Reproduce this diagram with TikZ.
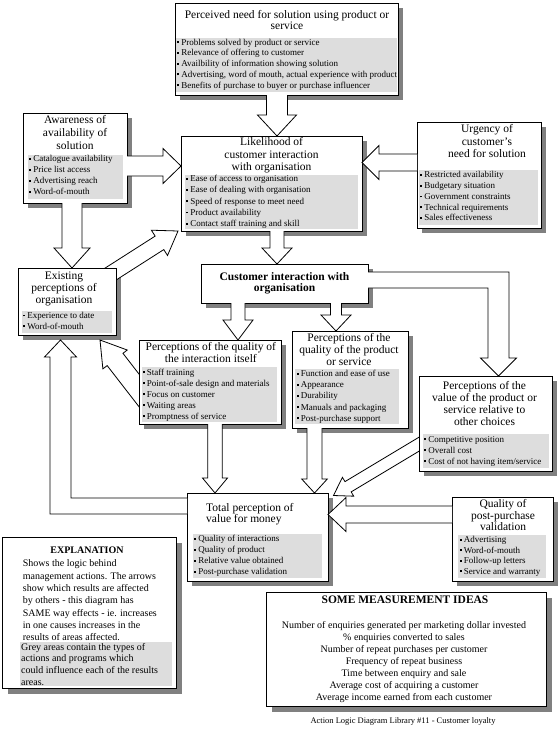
\documentclass[tikz,border=0pt]{standalone}
\usepackage{fontspec}
\setmainfont{Liberation Serif}
\usetikzlibrary{calc}
\definecolor{shadowc}{RGB}{128,128,128}
\definecolor{greyc}{RGB}{221,221,221}
\newcommand{\bulmark}{\rule[2pt]{1.8pt}{1.8pt}\hspace{2.4pt}}
% block arrow: tail, tip, stem half width, head half width, head length
\newcommand{\barrow}[5]{%
  \coordinate (ba-a) at (#1);
  \coordinate (ba-b) at (#2);
  \coordinate (ba-h) at ($(ba-b)!#5!(ba-a)$);
  \filldraw[arrowc] ($(ba-a)!#3!90:(ba-b)$) -- ($(ba-h)!#3!90:(ba-b)$) -- ($(ba-h)!#4!90:(ba-b)$)
    -- (ba-b) -- ($(ba-h)!#4!-90:(ba-b)$) -- ($(ba-h)!#3!-90:(ba-b)$) -- ($(ba-a)!#3!-90:(ba-b)$);
}
% centred title lines: x, first baseline, step, lines
\newcommand{\tlines}[4]{\foreach \t [count=\i from 0] in {#4} \node[ttl,anchor=base] at (#1,{#2+\i*#3}) {\t};}
% bullet lines: x, first baseline, step, lines
\newcommand{\blines}[4]{\foreach \t [count=\i from 0] in {#4} \node[bul,anchor=base west] at (#1,{#2+\i*#3}) {\bulmark\t};}
\begin{document}
\begin{tikzpicture}[x=1pt,y=-1pt,
  geom/.style={draw=none,inner sep=0pt,outer sep=0pt},
  boxline/.style={draw=black,fill=white,line width=0.9pt},
  arrowc/.style={draw=black,fill=white,line width=0.8pt,line join=miter},
  ttl/.style={inner sep=0pt,font=\fontsize{11.5}{12}\selectfont},
  bul/.style={inner sep=0pt,font=\fontsize{9}{10}\selectfont},
  expf/.style={inner sep=0pt,font=\fontsize{10}{11}\selectfont}]
\fill[white] (0,0) rectangle (560,729);
\useasboundingbox (0,0) rectangle (560,729);

% ---------- box geometry ----------
\node[geom,minimum width=223pt,minimum height=92pt] (need) at (286.5,49) {};
\node[geom,minimum width=104pt,minimum height=90pt] (aware) at (75,158) {};
\node[geom,minimum width=181pt,minimum height=95pt] (likely) at (271.5,183.5) {};
\node[geom,minimum width=124pt,minimum height=106pt] (urg) at (479,175) {};
\node[geom,minimum width=98pt,minimum height=67pt] (exist) at (67,301.5) {};
\node[geom,minimum width=167pt,minimum height=39pt] (cust) at (284.5,283.5) {};
\node[geom,minimum width=142pt,minimum height=84pt] (pint) at (210,382) {};
\node[geom,minimum width=116pt,minimum height=97pt] (pprod) at (350,379.5) {};
\node[geom,minimum width=133pt,minimum height=95pt] (pval) at (485.5,423.5) {};
\node[geom,minimum width=141pt,minimum height=88pt] (total) at (257.5,537) {};
\node[geom,minimum width=101pt,minimum height=84pt] (post) at (502.5,539) {};
\node[geom,minimum width=174pt,minimum height=151pt] (expl) at (89,612.5) {};
\node[geom,minimum width=280pt,minimum height=114pt] (meas) at (406,649) {};
\coordinate (exsh) at ([yshift=-5pt]exist.south);

% ---------- shadows ----------
\foreach \n/\d in {need/5pt,aware/5pt,likely/5pt,urg/5pt,exist/5pt,cust/5pt,pint/5pt,pprod/5pt,pval/5pt,total/5pt,post/5pt,expl/6pt,meas/6pt}
  \fill[shadowc] ([shift={(\d,-\d)}]\n.south west) rectangle ([shift={(\d,-\d)}]\n.north east);

% ---------- diagonal arrows (tails hidden under boxes) ----------
\barrow{[shift={(-15.5pt,-12.5pt)}]exist.north east}{[xshift=-3pt]likely.south west}{8pt}{15pt}{22pt}
\barrow{[shift={(9pt,-20pt)}]pint.west}{exsh -| 100,0}{10pt}{15.4pt}{24.6pt}
\barrow{[shift={(12.3pt,-13.3pt)}]pval.west}{[shift={(5.5pt,-2.5pt)}]total.north east}{6pt}{11pt}{17pt}

% ---------- boxes ----------
\foreach \n in {need,aware,likely,urg,exist,cust,pint,pprod,pval,total,post,expl,meas}
  \draw[boxline] (\n.south west) rectangle (\n.north east);

% ---------- grey areas ----------
\fill[greyc] (176,38) rectangle (397,92);
\fill[greyc] (28,155) rectangle (123,199);
\fill[greyc] (185,175) rectangle (358,229);
\fill[greyc] (419,170) rectangle (538,225);
\fill[greyc] (22,311) rectangle (112,333);
\fill[greyc] (142,367) rectangle (277,422);
\fill[greyc] (295,369) rectangle (399,424);
\fill[greyc] (423,434) rectangle (549,468);
\fill[greyc] (193,534) rectangle (322,578);
\fill[greyc] (458,535) rectangle (546,578);
\fill[greyc] (20,642) rectangle (172,686);

% ---------- texts ----------
\tlines{287}{18.5}{11}{Perceived need for solution using product or,service}
\blines{177}{45}{10.75}{Problems solved by product or service,Relevance of offering to customer,Availbility of information showing solution,{Advertising, word of mouth, actual experience with product},Benefits of purchase to buyer or purchase influencer}

\tlines{75}{123.5}{13}{Awareness of,availability of,solution}
\blines{29}{161.7}{11}{Catalogue availability,Price list access,Advertising reach,Word-of-mouth}

\tlines{271.5}{145.7}{12.3}{Likelihood of,customer interaction,with organisation}
\blines{186}{181.7}{11.2}{Ease of access to organisation,Ease of dealing with organisation,Speed of response to meet need,Product availability,Contact staff training and skill}

\tlines{487}{132.3}{12.7}{Urgency of,customer's,need for solution}
\blines{420}{177.7}{10.8}{Restricted availability,Budgetary situation,Government constraints,Technical requirements,Sales effectiveness}

\tlines{64}{279.3}{12.2}{Existing,perceptions of,organisation}
\blines{23}{318.3}{10.8}{Experience to date,Word-of-mouth}

\node[ttl,anchor=base,font=\fontsize{11.5}{12}\selectfont\bfseries] at (284.5,280) {Customer interaction with};
\node[ttl,anchor=base,font=\fontsize{11.5}{12}\selectfont\bfseries] at (284.5,291.5) {organisation};

\tlines{210.8}{350.7}{11.6}{Perceptions of the quality of,the interaction itself}
\blines{142.5}{375}{11}{Staff training,Point-of-sale design and materials,Focus on customer,Waiting areas,Promptness of service}

\tlines{349}{341}{12.3}{Perceptions of the,quality of the product,or service}
\blines{296.5}{376.7}{11.1}{Function and ease of use,Appearance,Durability,Manuals and packaging,Post-purchase support}

\tlines{484.5}{389.3}{12}{Perceptions of the,value of the product or,service relative to,other choices}
\blines{424}{442}{11}{Competitive position,Overall cost,Cost of not having item/service}

\node[ttl,anchor=base west] at (206,511) {Total perception of};
\node[ttl,anchor=base west] at (206,522.5) {value for money};
\blines{194}{541.7}{11}{Quality of interactions,Quality of product,Relative value obtained,Post-purchase validation}

\tlines{503}{507.5}{11.5}{Quality of,post-purchase,validation}
\blines{459.5}{542.7}{10.5}{Advertising,Word-of-mouth,Follow-up letters,Service and warranty}

\node[expf,anchor=base,font=\fontsize{10}{11}\selectfont\bfseries] at (87,553.3) {EXPLANATION};
\foreach \t [count=\i from 0] in {Shows the logic behind,management actions. The arrows,show which results are affected,by others - this diagram has,SAME way effects - ie. increases,in one causes increases in the,results of areas affected.}
  \node[expf,anchor=base west] at (22.7,{566.8+\i*12.3}) {\t};
\foreach \t [count=\i from 0] in {Grey areas contain the types of,actions and programs which,could influence each of the results,areas.}
  \node[expf,anchor=base west] at (21,{650+\i*11.7}) {\t};

\node[ttl,anchor=base,font=\fontsize{11.5}{12}\selectfont\bfseries] at (405,603.3) {SOME MEASUREMENT IDEAS};
\foreach \t [count=\i from 0] in {Number of enquiries generated per marketing dollar invested,\% enquiries converted to sales,Number of repeat purchases per customer,Frequency of repeat business,Time between enquiry and sale,Average cost of acquiring a customer,Average income earned from each customer}
  \node[expf,anchor=base] at (404,{628.8+\i*11.95}) {\t};

\node[bul,anchor=base,font=\fontsize{8.5}{10}\selectfont] (footer) at (403,723) {Action Logic Diagram Library \#11 - Customer loyalty};

% ---------- straight block arrows ----------
\barrow{need.south -| 277,0}{likely.north -| 277,0}{10.5pt}{19.5pt}{21pt}
\barrow{aware.east |- 0,166}{likely.west |- 0,166}{10pt}{17.5pt}{18pt}
\barrow{urg.west |- 0,162.5}{likely.east |- 0,162.5}{8.5pt}{17pt}{17pt}
\barrow{aware.south -| 72,0}{exist.north -| 72,0}{10pt}{18pt}{20pt}
\barrow{likely.south -| 277,0}{cust.north -| 277,0}{7pt}{15pt}{16pt}
\barrow{cust.south -| 238,0}{pint.north -| 238,0}{7pt}{15pt}{20pt}
\barrow{cust.south -| 336,0}{pprod.north -| 336,0}{5.5pt}{15pt}{16pt}
\barrow{pint.south -| 215,0}{total.north -| 215,0}{7.2pt}{12.5pt}{15pt}
\barrow{pprod.south -| 314.5,0}{total.north -| 314.5,0}{7.5pt}{12.8pt}{14pt}
\barrow{post.west |- 0,514.5}{total.east |- 0,514.5}{8.5pt}{17pt}{18pt}

% ---------- bent block arrows ----------
\filldraw[arrowc] (cust.east |- 0,272) -- (509,272) -- (509,358) -- (516.5,358) -- (pval.north -| 498.5,0)
  -- (480.5,358) -- (488,358) -- (488,288) -- (cust.east |- 0,288);
\filldraw[arrowc] (total.west |- 0,514) -- (50,514) -- (50,357) -- (44.5,357) -- (exsh -| 60.5,0)
  -- (76.5,357) -- (71,357) -- (71,498) -- (total.west |- 0,498);
\end{tikzpicture}
\end{document}
